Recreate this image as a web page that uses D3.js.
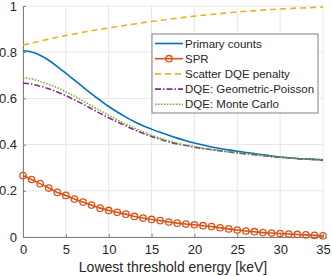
<!DOCTYPE html>
<html>
<head>
<meta charset="utf-8">
<script src="https://cdn.jsdelivr.net/npm/d3@7"></script>
<style>
  body { margin: 0; background: #fff; }
  text { font-family: "Liberation Sans", Arial, sans-serif; fill: #262626; }
</style>
</head>
<body>
<div id="chart"></div>
<script>
// threshold energies (keV)
var energy = d3.range(0, 36);

var primaryCounts = [0.806, 0.801, 0.787, 0.765, 0.738, 0.709, 0.679, 0.649, 0.620, 0.592,
    0.565, 0.541, 0.519, 0.499, 0.482, 0.467, 0.453, 0.440, 0.428, 0.417,
    0.407, 0.398, 0.390, 0.383, 0.377, 0.371, 0.366, 0.361, 0.356, 0.351,
    0.346, 0.343, 0.340, 0.338, 0.336, 0.334];

var spr = [0.266, 0.249, 0.231, 0.212, 0.193, 0.180, 0.164, 0.151, 0.138, 0.125,
    0.115, 0.107, 0.099, 0.089, 0.082, 0.076, 0.071, 0.065, 0.060, 0.056,
    0.053, 0.049, 0.045, 0.040, 0.035, 0.030, 0.026, 0.023, 0.019, 0.017,
    0.015, 0.013, 0.011, 0.009, 0.007, 0.005];

var scatterPenalty = [0.831, 0.840, 0.848, 0.857, 0.865, 0.872, 0.879, 0.886, 0.893, 0.899,
    0.905, 0.911, 0.917, 0.922, 0.928, 0.933, 0.938, 0.943, 0.947, 0.952,
    0.956, 0.960, 0.964, 0.967, 0.971, 0.974, 0.977, 0.980, 0.982, 0.985,
    0.987, 0.989, 0.991, 0.992, 0.994, 0.995];

var dqeGP = [0.667, 0.662, 0.653, 0.642, 0.628, 0.612, 0.594, 0.575, 0.555, 0.535,
    0.516, 0.498, 0.481, 0.464, 0.449, 0.435, 0.423, 0.412, 0.403, 0.396,
    0.389, 0.383, 0.378, 0.373, 0.368, 0.364, 0.360, 0.356, 0.352, 0.348,
    0.345, 0.342, 0.339, 0.337, 0.335, 0.333];

var dqeMC = [0.690, 0.684, 0.674, 0.661, 0.646, 0.629, 0.610, 0.589, 0.568, 0.547,
    0.527, 0.507, 0.489, 0.471, 0.455, 0.441, 0.428, 0.416, 0.406, 0.398,
    0.391, 0.384, 0.379, 0.374, 0.369, 0.365, 0.361, 0.357, 0.353, 0.349,
    0.346, 0.343, 0.340, 0.338, 0.336, 0.334];

var xTicks = [0, 5, 10, 15, 20, 25, 30, 35];
var yTicks = [0, 0.2, 0.4, 0.6, 0.8, 1];

var seriesNames = ["Primary counts", "SPR", "Scatter DQE penalty", "DQE: Geometric-Poisson", "DQE: Monte Carlo"];

var W = 332, H = 276;
var margin = { top: 6, right: 9, bottom: 39, left: 23 },
    width = W - margin.left - margin.right,
    height = H - margin.top - margin.bottom;

var svg = d3.select("#chart").append("svg")
    .attr("width", W).attr("height", H)
    .append("g")
    .attr("transform", "translate(" + margin.left + "," + margin.top + ")");

var x = d3.scaleLinear().domain([0, 35]).range([0, width]);
var y = d3.scaleLinear().domain([0, 1]).range([height, 0]);

// grid
svg.append("g").selectAll("line").data(xTicks).enter().append("line")
    .attr("x1", function (d) { return x(d); }).attr("x2", function (d) { return x(d); })
    .attr("y1", 0).attr("y2", height)
    .attr("stroke", "#e6e6e6").attr("stroke-width", 1);
svg.append("g").selectAll("line").data(yTicks).enter().append("line")
    .attr("x1", 0).attr("x2", width)
    .attr("y1", function (d) { return y(d); }).attr("y2", function (d) { return y(d); })
    .attr("stroke", "#e6e6e6").attr("stroke-width", 1);

// axes
var xAxis = svg.append("g")
    .attr("transform", "translate(0," + height + ")")
    .call(d3.axisBottom(x).tickValues(xTicks).tickSizeInner(-3).tickSizeOuter(0).tickPadding(8));
var yAxis = svg.append("g")
    .call(d3.axisLeft(y).tickValues(yTicks).tickFormat(d3.format("")).tickSizeInner(-3).tickSizeOuter(0).tickPadding(6));
[xAxis, yAxis].forEach(function (a) {
    a.select(".domain").attr("stroke", "#808080");
    a.selectAll(".tick line").attr("stroke", "#808080");
    a.selectAll(".tick text").style("font-size", "13px").attr("fill", "#262626");
});

svg.append("text")
    .attr("text-anchor", "middle")
    .attr("x", width / 2).attr("y", height + 35)
    .style("font-size", "14px")
    .text("Lowest threshold energy [keV]");

// lines
var line = function (vals) {
    return d3.line()
        .x(function (d, i) { return x(energy[i]); })
        .y(function (d) { return y(d); })
        .curve(d3.curveMonotoneX)(vals);
};

var styles = [
    { data: primaryCounts, color: "#0072BD", dash: null },
    { data: spr, color: "#D95319", dash: null },
    { data: scatterPenalty, color: "#EDB120", dash: "6,4" },
    { data: dqeGP, color: "#7E2F8E", dash: "6,2,1.5,2" },
    { data: dqeMC, color: "#77AC30", dash: "1.5,1.5" }
];

styles.forEach(function (s) {
    svg.append("path")
        .attr("d", line(s.data))
        .attr("fill", "none")
        .attr("stroke", s.color)
        .attr("stroke-width", 1.6)
        .attr("stroke-dasharray", s.dash);
});

// SPR markers
svg.append("g").selectAll("circle").data(spr).enter().append("circle")
    .attr("cx", function (d, i) { return x(energy[i]); })
    .attr("cy", function (d) { return y(d); })
    .attr("r", 3.2)
    .attr("fill", "none")
    .attr("stroke", "#D95319")
    .attr("stroke-width", 1.3);

// legend
var lg = svg.append("g").attr("transform", "translate(" + (152 - margin.left) + "," + (34 - margin.top) + ")");
lg.append("rect")
    .attr("x", 0).attr("y", 0).attr("width", 166).attr("height", 79)
    .attr("fill", "#fff").attr("stroke", "#808080").attr("stroke-width", 1);
seriesNames.forEach(function (name, i) {
    var cy = 9.5 + i * 15.2;
    lg.append("line")
        .attr("x1", 3).attr("x2", 31).attr("y1", cy).attr("y2", cy)
        .attr("stroke", styles[i].color).attr("stroke-width", 1.6)
        .attr("stroke-dasharray", styles[i].dash);
    if (i === 1) {
        lg.append("circle").attr("cx", 17).attr("cy", cy).attr("r", 3.2)
            .attr("fill", "none").attr("stroke", styles[i].color).attr("stroke-width", 1.3);
    }
    lg.append("text")
        .attr("x", 33).attr("y", cy).attr("dy", "0.35em")
        .style("font-size", "11.5px")
        .text(name);
});
</script>
</body>
</html>
